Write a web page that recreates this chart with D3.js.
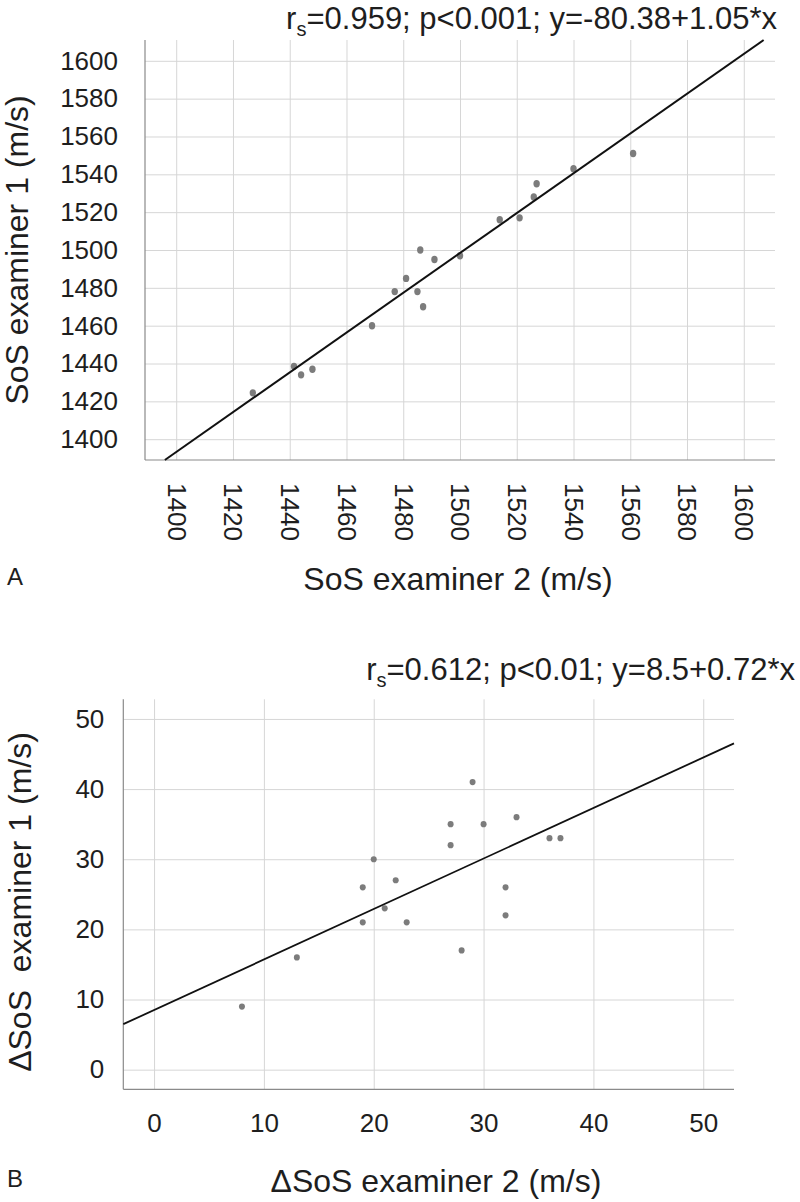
<!DOCTYPE html>
<html>
<head>
<meta charset="utf-8">
<script src="https://cdn.jsdelivr.net/npm/d3@7"></script>
<style>
  html, body { margin: 0; padding: 0; background: #fff; }
  svg { display: block; font-family: "Liberation Sans", Arial, sans-serif; }
</style>
</head>
<body>
<svg id="chart" width="800" height="1202"></svg>
<script>
// ---------- Panel A data ----------
const aExaminer2 = [1427, 1441.5, 1444, 1448, 1469, 1477, 1481, 1485, 1486, 1487, 1491, 1500, 1514, 1521, 1526, 1527, 1540, 1561];
const aExaminer1 = [1424.5, 1438.5, 1434, 1437, 1460, 1478, 1485, 1478, 1500, 1470, 1495, 1497, 1516, 1517, 1528, 1535, 1543, 1551];
const aTicks = [1400, 1420, 1440, 1460, 1480, 1500, 1520, 1540, 1560, 1580, 1600];
const aDomain = [1389, 1611];
const aFitX = [1396, 1607];
const aFitY = [1389, 1611];
const aTitleMain = "=0.959; p<0.001; y=-80.38+1.05*x";
const aXLabel = "SoS examiner 2 (m/s)";
const aYLabel = "SoS examiner 1 (m/s)";

// ---------- Panel B data ----------
const bExaminer2 = [8, 13, 19, 19, 20, 21, 22, 23, 27, 27, 28, 29, 30, 32, 32, 33, 36, 37];
const bExaminer1 = [9, 16, 21, 26, 30, 23, 27, 21, 32, 35, 17, 41, 35, 22, 26, 36, 33, 33];
const bTicks = [0, 10, 20, 30, 40, 50];
const bDomain = [-2.8, 52.8];
const bIntercept = 8.5;
const bSlope = 0.72;
const bTitleMain = "=0.612; p<0.01; y=8.5+0.72*x";
const bXLabel = "\u0394SoS examiner 2 (m/s)";
const bYLabel = "\u0394SoS\u00a0 examiner 1 (m/s)";

const svg = d3.select("#chart");
const GRID = "#d6d6d6", AXIS = "#8a8a8a", TEXT = "#1e1e1e", DOT = "#7c7c7c";

function panel(cfg) {
  const x = d3.scaleLinear().domain(cfg.domain).range([cfg.left, cfg.right]);
  const y = d3.scaleLinear().domain(cfg.domain).range([cfg.bottom, cfg.top]);
  const w = cfg.right - cfg.left, h = cfg.bottom - cfg.top;

  // Y axis with horizontal grid
  const ya = svg.append("g").attr("transform", `translate(${cfg.left},0)`)
    .call(d3.axisLeft(y).tickValues(cfg.ticks).tickSize(-w).tickSizeOuter(0).tickPadding(cfg.yPad).tickFormat(d3.format("d")));
  ya.selectAll(".tick line").attr("stroke", GRID).attr("stroke-width", 1);
  ya.select(".domain").remove();
  ya.selectAll(".tick text").attr("fill", TEXT).attr("font-size", 26).attr("font-family", "Liberation Sans, Arial, sans-serif");

  // X axis with vertical grid
  const xa = svg.append("g").attr("transform", `translate(0,${cfg.bottom})`)
    .call(d3.axisBottom(x).tickValues(cfg.ticks).tickSize(-h).tickSizeOuter(0).tickPadding(cfg.xPad).tickFormat(d3.format("d")));
  xa.selectAll(".tick line").attr("stroke", GRID).attr("stroke-width", 1);
  xa.select(".domain").remove();
  const xt = xa.selectAll(".tick text").attr("fill", TEXT).attr("font-size", 26).attr("font-family", "Liberation Sans, Arial, sans-serif");
  if (cfg.rotateX) {
    xt.attr("transform", "rotate(90)").attr("text-anchor", "start")
      .attr("x", cfg.xPad).attr("y", 0).attr("dy", "0.35em");
  }

  // axis lines
  svg.append("line").attr("x1", cfg.left).attr("x2", cfg.left).attr("y1", cfg.top).attr("y2", cfg.bottom)
    .attr("stroke", AXIS).attr("stroke-width", 1.2);
  svg.append("line").attr("x1", cfg.left).attr("x2", cfg.right).attr("y1", cfg.bottom).attr("y2", cfg.bottom)
    .attr("stroke", AXIS).attr("stroke-width", 1.2);

  // points
  svg.append("g").selectAll("ellipse").data(cfg.xs.map((v, i) => [v, cfg.ys[i]])).join("ellipse")
    .attr("cx", d => x(d[0])).attr("cy", d => y(d[1]))
    .attr("rx", cfg.rx).attr("ry", cfg.ry).attr("fill", DOT);

  // fit line
  svg.append("path").datum(cfg.fit)
    .attr("d", d3.line().x(d => x(d[0])).y(d => y(d[1])))
    .attr("fill", "none").attr("stroke", "#111").attr("stroke-width", cfg.lineW);

  // title with subscript
  const t = svg.append("text").attr("x", cfg.titleX).attr("y", cfg.titleY)
    .attr("text-anchor", "end").attr("font-size", 31).attr("fill", TEXT);
  t.append("tspan").text("r");
  t.append("tspan").attr("font-size", 20).attr("dy", 7).text("s");
  t.append("tspan").attr("dy", -7).text(cfg.titleMain);

  // axis labels
  svg.append("text").attr("x", cfg.xLabelX).attr("y", cfg.xLabelY).attr("text-anchor", "middle")
    .attr("font-size", 32).attr("fill", TEXT).text(cfg.xLabel);
  svg.append("text").attr("transform", `translate(${cfg.yLabelX},${cfg.yLabelY}) rotate(-90)`)
    .attr("text-anchor", "middle").attr("font-size", 32).attr("fill", TEXT).text(cfg.yLabel);

  // panel letter
  svg.append("text").attr("x", 7).attr("y", cfg.letterY).attr("font-size", 24).attr("fill", TEXT).text(cfg.letter);
}

panel({
  domain: aDomain, ticks: aTicks, left: 145, right: 775, top: 40, bottom: 460,
  yPad: 27, xPad: 23, rotateX: true,
  xs: aExaminer2, ys: aExaminer1, rx: 3.2, ry: 3.7,
  fit: aFitX.map((v, i) => [v, aFitY[i]]), lineW: 2,
  titleMain: aTitleMain, titleX: 777, titleY: 29,
  xLabel: aXLabel, xLabelX: 458, xLabelY: 590,
  yLabel: aYLabel, yLabelX: 28, yLabelY: 250,
  letter: "A", letterY: 585
});

panel({
  domain: bDomain, ticks: bTicks, left: 123.3, right: 734, top: 699.3, bottom: 1089.3,
  yPad: 19, xPad: 24, rotateX: false,
  xs: bExaminer2, ys: bExaminer1, rx: 3, ry: 3.1,
  fit: bDomain.map(v => [v, bIntercept + bSlope * v]), lineW: 1.8,
  titleMain: bTitleMain, titleX: 795, titleY: 680,
  xLabel: bXLabel, xLabelX: 436, xLabelY: 1192,
  yLabel: bYLabel, yLabelX: 31, yLabelY: 902,
  letter: "B", letterY: 1187
});
</script>
</body>
</html>
